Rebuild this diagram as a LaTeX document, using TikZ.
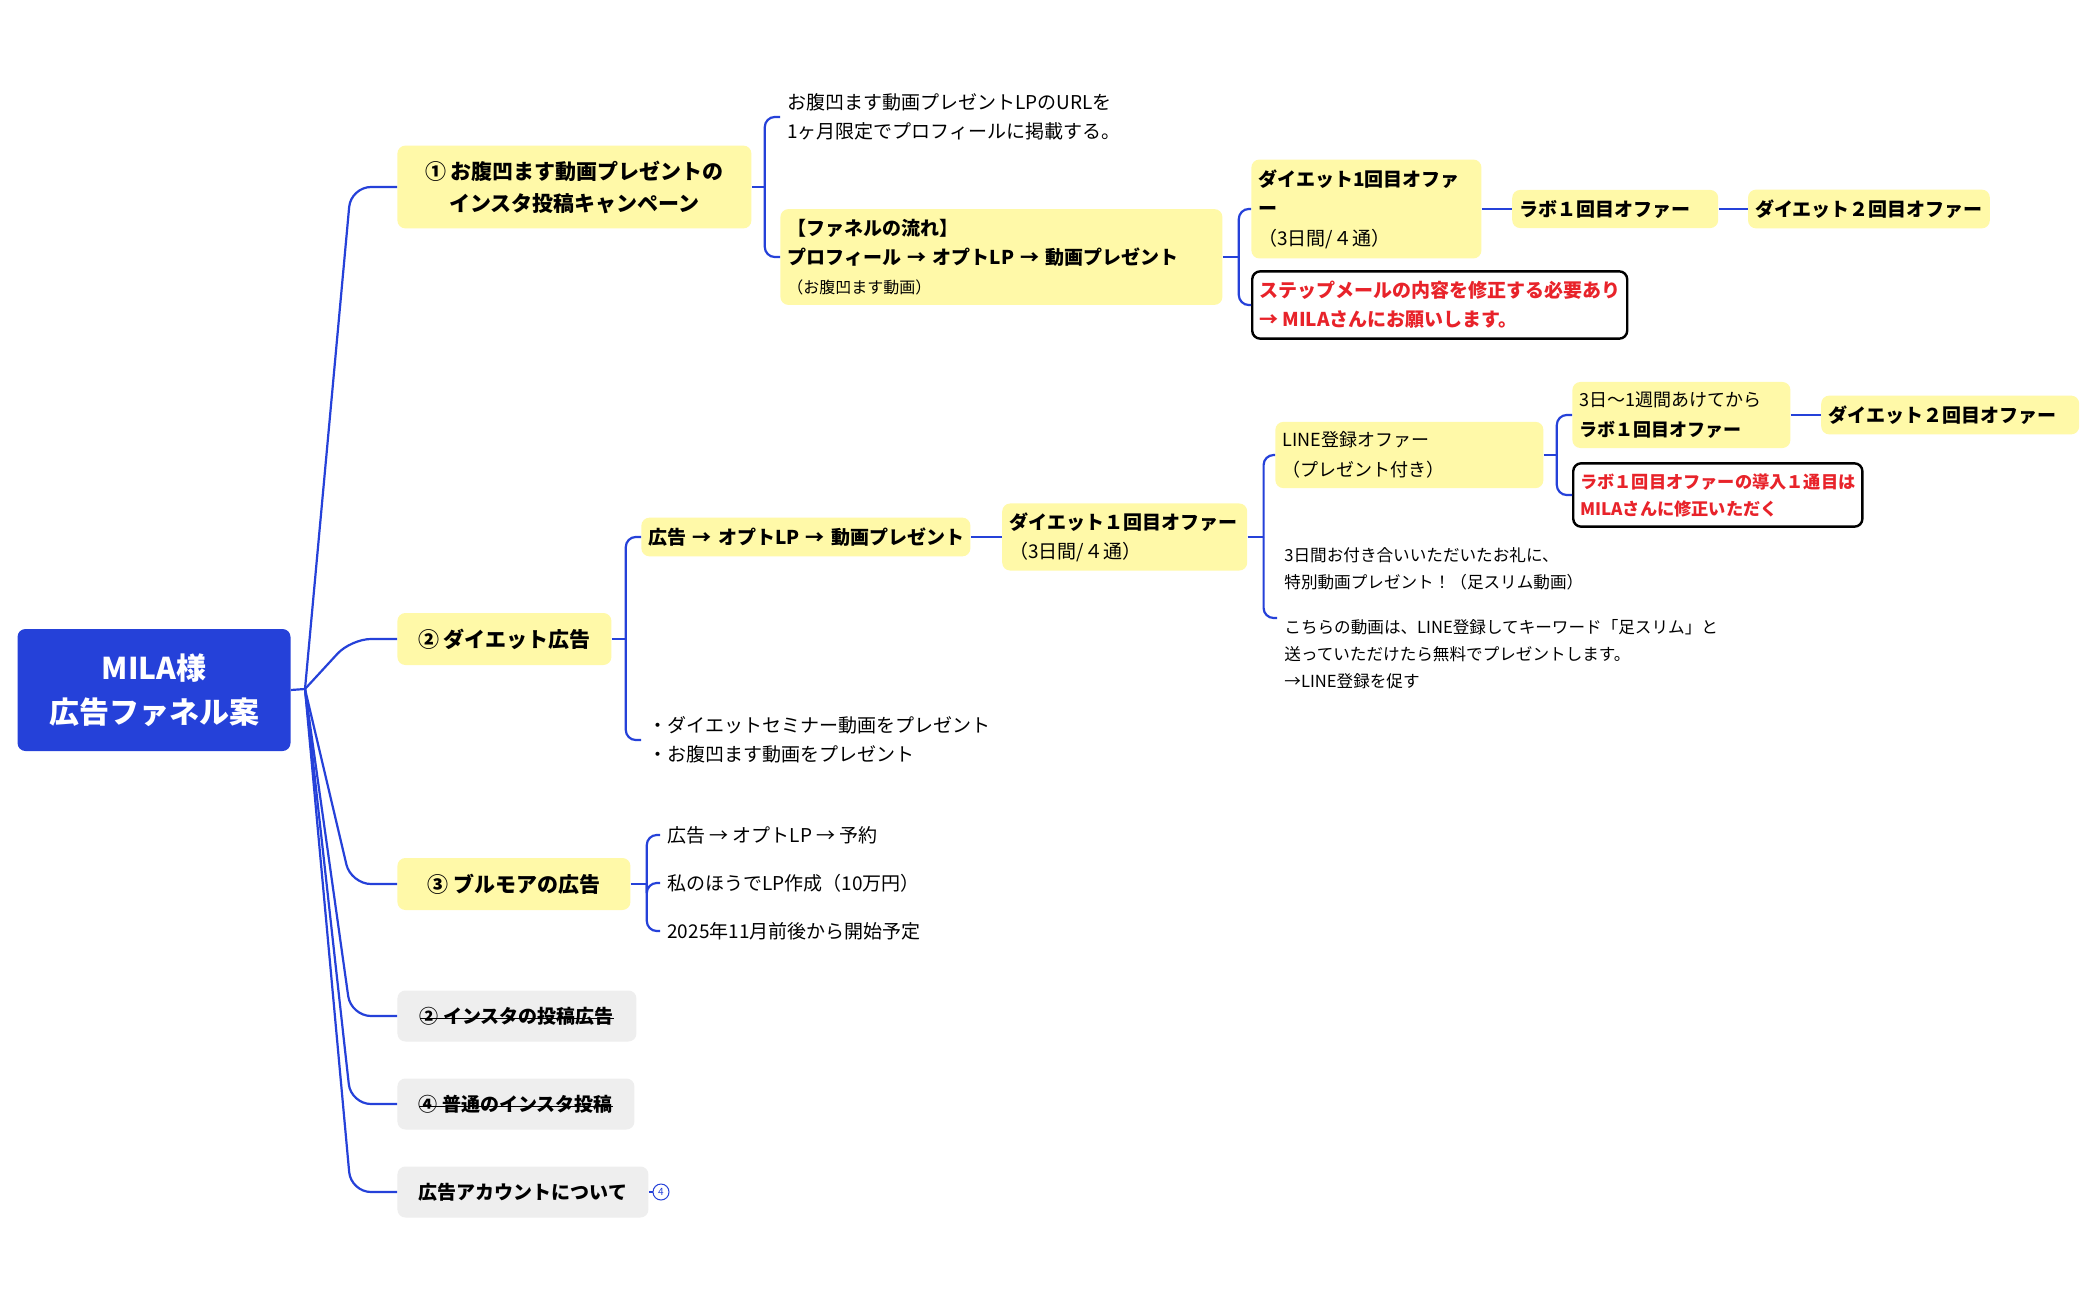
\documentclass[tikz,border=0pt]{standalone}
\usepackage{fontspec}
\setmainfont{Noto Sans CJK JP}
\usetikzlibrary{positioning}

\definecolor{mapblue}{HTML}{2541D9}
\definecolor{topicyellow}{HTML}{FFF9A8}
\definecolor{topicgray}{HTML}{EEEEEE}
\definecolor{alertred}{HTML}{E8232A}

\newcommand\fsz[2]{\fontsize{#1}{#2}\selectfont}
\newcommand\strk[1]{\setbox0\hbox{#1}\rlap{\rule[0.42ex]{\wd0}{0.6pt}}\box0}

\begin{document}
\begin{tikzpicture}[
    x=0.5pt, y=-0.5pt, % one unit is one pixel of the layout, y runs down
    link/.style={draw=mapblue, line width=1.1pt, rounded corners=5pt},
    root/.style={fill=mapblue, text=white, rounded corners=4pt, font=\fsz{15}{22}\bfseries, align=center, minimum width=136.5pt, minimum height=61pt},
    topic/.style={fill=topicyellow, rounded corners=4pt, font=\fsz{10.5}{16}\bfseries, align=center, inner xsep=10pt, inner ysep=7.5pt, minimum height=26pt, anchor=west},
    oldtopic/.style={topic, fill=topicgray, font=\fsz{9.5}{14}\bfseries, minimum height=25.5pt},
    sub/.style={fill=topicyellow, rounded corners=4pt, font=\fsz{9.5}{14.5}, align=left, inner xsep=3.5pt, inner ysep=5pt, anchor=west},
    note/.style={font=\fsz{9.5}{14.7}, align=left, inner xsep=3.5pt, inner ysep=2pt, anchor=west},
    alert/.style={draw=black, line width=1.2pt, fill=white, rounded corners=4pt, text=alertred, font=\fsz{9.5}{14.5}\bfseries, align=left, inner xsep=3.5pt, inner ysep=5pt, anchor=west},
    badge/.style={circle, draw=mapblue, line width=0.5pt, inner sep=0pt, minimum size=8pt, text=mapblue, font=\fsz{5}{5}}
]
    \fill[white] (0,0) rectangle (2098,1300);
    \useasboundingbox (0,0) rectangle (2098,1300);

    % Place the root and the main topics
    \node[root] (root) at (154,690) {MILA様\\広告ファネル案};
    \coordinate (hub) at (305,689);

    \node[topic, minimum width=177pt] (t1) at (397,187) {① お腹凹ます動画プレゼントの\\インスタ投稿キャンペーン};
    \node[topic, minimum width=107pt] (t2) at (397,639) {② ダイエット広告};
    \node[topic, minimum width=116.5pt] (t3) at (397,884) {③ ブルモアの広告};
    \node[oldtopic, minimum width=119.5pt] (t4) at (397,1016) {\strk{② インスタの投稿広告}};
    \node[oldtopic, minimum width=118.5pt] (t5) at (397,1104) {\strk{④ 普通のインスタ投稿}};
    \node[oldtopic, minimum width=125.5pt] (t6) at (397,1192) {広告アカウントについて};
    \node[badge] (cnt) at (661,1192) {4};

    % Campaign branch
    \node[note] (url) at (780,117) {お腹凹ます動画プレゼントLPのURLを\\1ヶ月限定でプロフィールに掲載する。};
    \node[sub, text width=214pt] (fun) at (780,257) {\textbf{【ファネルの流れ】}\\\textbf{プロフィール → オプトLP → 動画プレゼント}\\{\fsz{8}{14}（お腹凹ます動画）}};
    \node[sub, text width=108pt, font=\fsz{9.5}{14.7}] (d1) at (1251,209) {\textbf{ダイエット1回目オファ}\\\textbf{ー}\\（3日間/４通）};
    \node[alert] (red1) at (1251,305) {ステップメールの内容を修正する必要あり\\→ MILAさんにお願いします。};
    \node[sub, text width=96pt, font=\fsz{9.5}{14.5}\bfseries, right=15pt of d1] (lab1) {ラボ１回目オファー};
    \node[sub, font=\fsz{9.5}{14.5}\bfseries, right=14.5pt of lab1] (d2a) {ダイエット２回目オファー};

    % Diet ad branch
    \node[sub, text width=157.5pt, font=\fsz{9.5}{14.5}\bfseries] (flow) at (641,537) {\mbox{広告 → オプトLP → 動画プレゼント}};
    \node[note] (sem) at (641,740) {・ダイエットセミナー動画をプレゼント\\・お腹凹ます動画をプレゼント};
    \node[sub, text width=115.5pt, inner ysep=4.5pt, right=15.5pt of flow] (d1b) {\textbf{ダイエット１回目オファー}\\（3日間/４通）};
    \node[sub, text width=127pt, font=\fsz{9}{14.7}] (line) at (1275,455) {LINE登録オファー\\（プレゼント付き）};
    \node[note, font=\fsz{8.3}{13.4}] (thanks) at (1277,618) {3日間お付き合いいただいたお礼に、\\特別動画プレゼント！（足スリム動画）\\[9.4pt]こちらの動画は、LINE登録してキーワード「足スリム」と\\送っていただけたら無料でプレゼントします。\\→LINE登録を促す};
    \node[sub, text width=102pt, font=\fsz{9}{14.7}] (lab2) at (1572,415) {3日〜1週間あけてから\\\textbf{ラボ１回目オファー}};
    \node[alert, font=\fsz{8.6}{13.5}\bfseries] (red2) at (1572,495) {ラボ１回目オファーの導入１通目は\\MILAさんに修正いただく};
    \node[sub, text width=122pt, font=\fsz{9.5}{14.5}\bfseries, right=15pt of lab2] (d2b) {ダイエット２回目オファー};

    % Bloomore branch
    \node[note] (bm1) at (660,835) {広告 → オプトLP → 予約};
    \node[note] (bm2) at (660,883) {私のほうでLP作成（10万円）};
    \node[note] (bm3) at (660,931) {2025年11月前後から開始予定};

    % Draw the root links
    \draw[link] (root.east) -- (hub);
    \draw[link, rounded corners=10pt] (hub) -- ([xshift=-23pt]t1.west) -- (t1.west);
    \draw[link, rounded corners=10pt] (hub) -- ([xshift=-23pt]t2.west) -- (t2.west);
    \draw[link, rounded corners=10pt] (hub) -- ([xshift=-23pt]t3.west) -- (t3.west);
    \draw[link, rounded corners=10pt] (hub) -- ([xshift=-23pt]t4.west) -- (t4.west);
    \draw[link, rounded corners=10pt] (hub) -- ([xshift=-23pt]t5.west) -- (t5.west);
    \draw[link, rounded corners=10pt] (hub) -- ([xshift=-23pt]t6.west) -- (t6.west);
    \draw[link] (t6.east) -- (cnt.west);

    % brackets to the children
    \draw[link] (t1.east) -- ++(6.5pt,0) coordinate (t1j);
    \draw[link] (t1j) |- (url.west);
    \draw[link] (t1j) |- (fun.west);

    \draw[link] (fun.east) -- ++(8pt,0) coordinate (funj);
    \draw[link] (funj) |- (d1.west);
    \draw[link] (funj) |- (red1.west);
    \draw[link] (d1.east) -- (lab1.west);
    \draw[link] (lab1.east) -- (d2a.west);

    \draw[link] (t2.east) -- ++(7pt,0) coordinate (t2j);
    \draw[link] (t2j) |- (flow.west);
    \draw[link] (t2j) |- (sem.west);
    \draw[link] (flow.east) -- (d1b.west);

    \draw[link] (d1b.east) -- ++(8pt,0) coordinate (d1bj);
    \draw[link] (d1bj) |- (line.west);
    \draw[link] (d1bj) |- (thanks.west);

    \draw[link] (line.east) -- ++(6.5pt,0) coordinate (linej);
    \draw[link] (linej) |- (lab2.west);
    \draw[link] (linej) |- (red2.west);
    \draw[link] (lab2.east) -- (d2b.west);

    \draw[link] (t3.east) -- ++(8pt,0) coordinate (t3j);
    \draw[link] (t3j) |- (bm1.west);
    \draw[link] (t3j) |- (bm2.west);
    \draw[link] (t3j) |- (bm3.west);
\end{tikzpicture}
\end{document}
